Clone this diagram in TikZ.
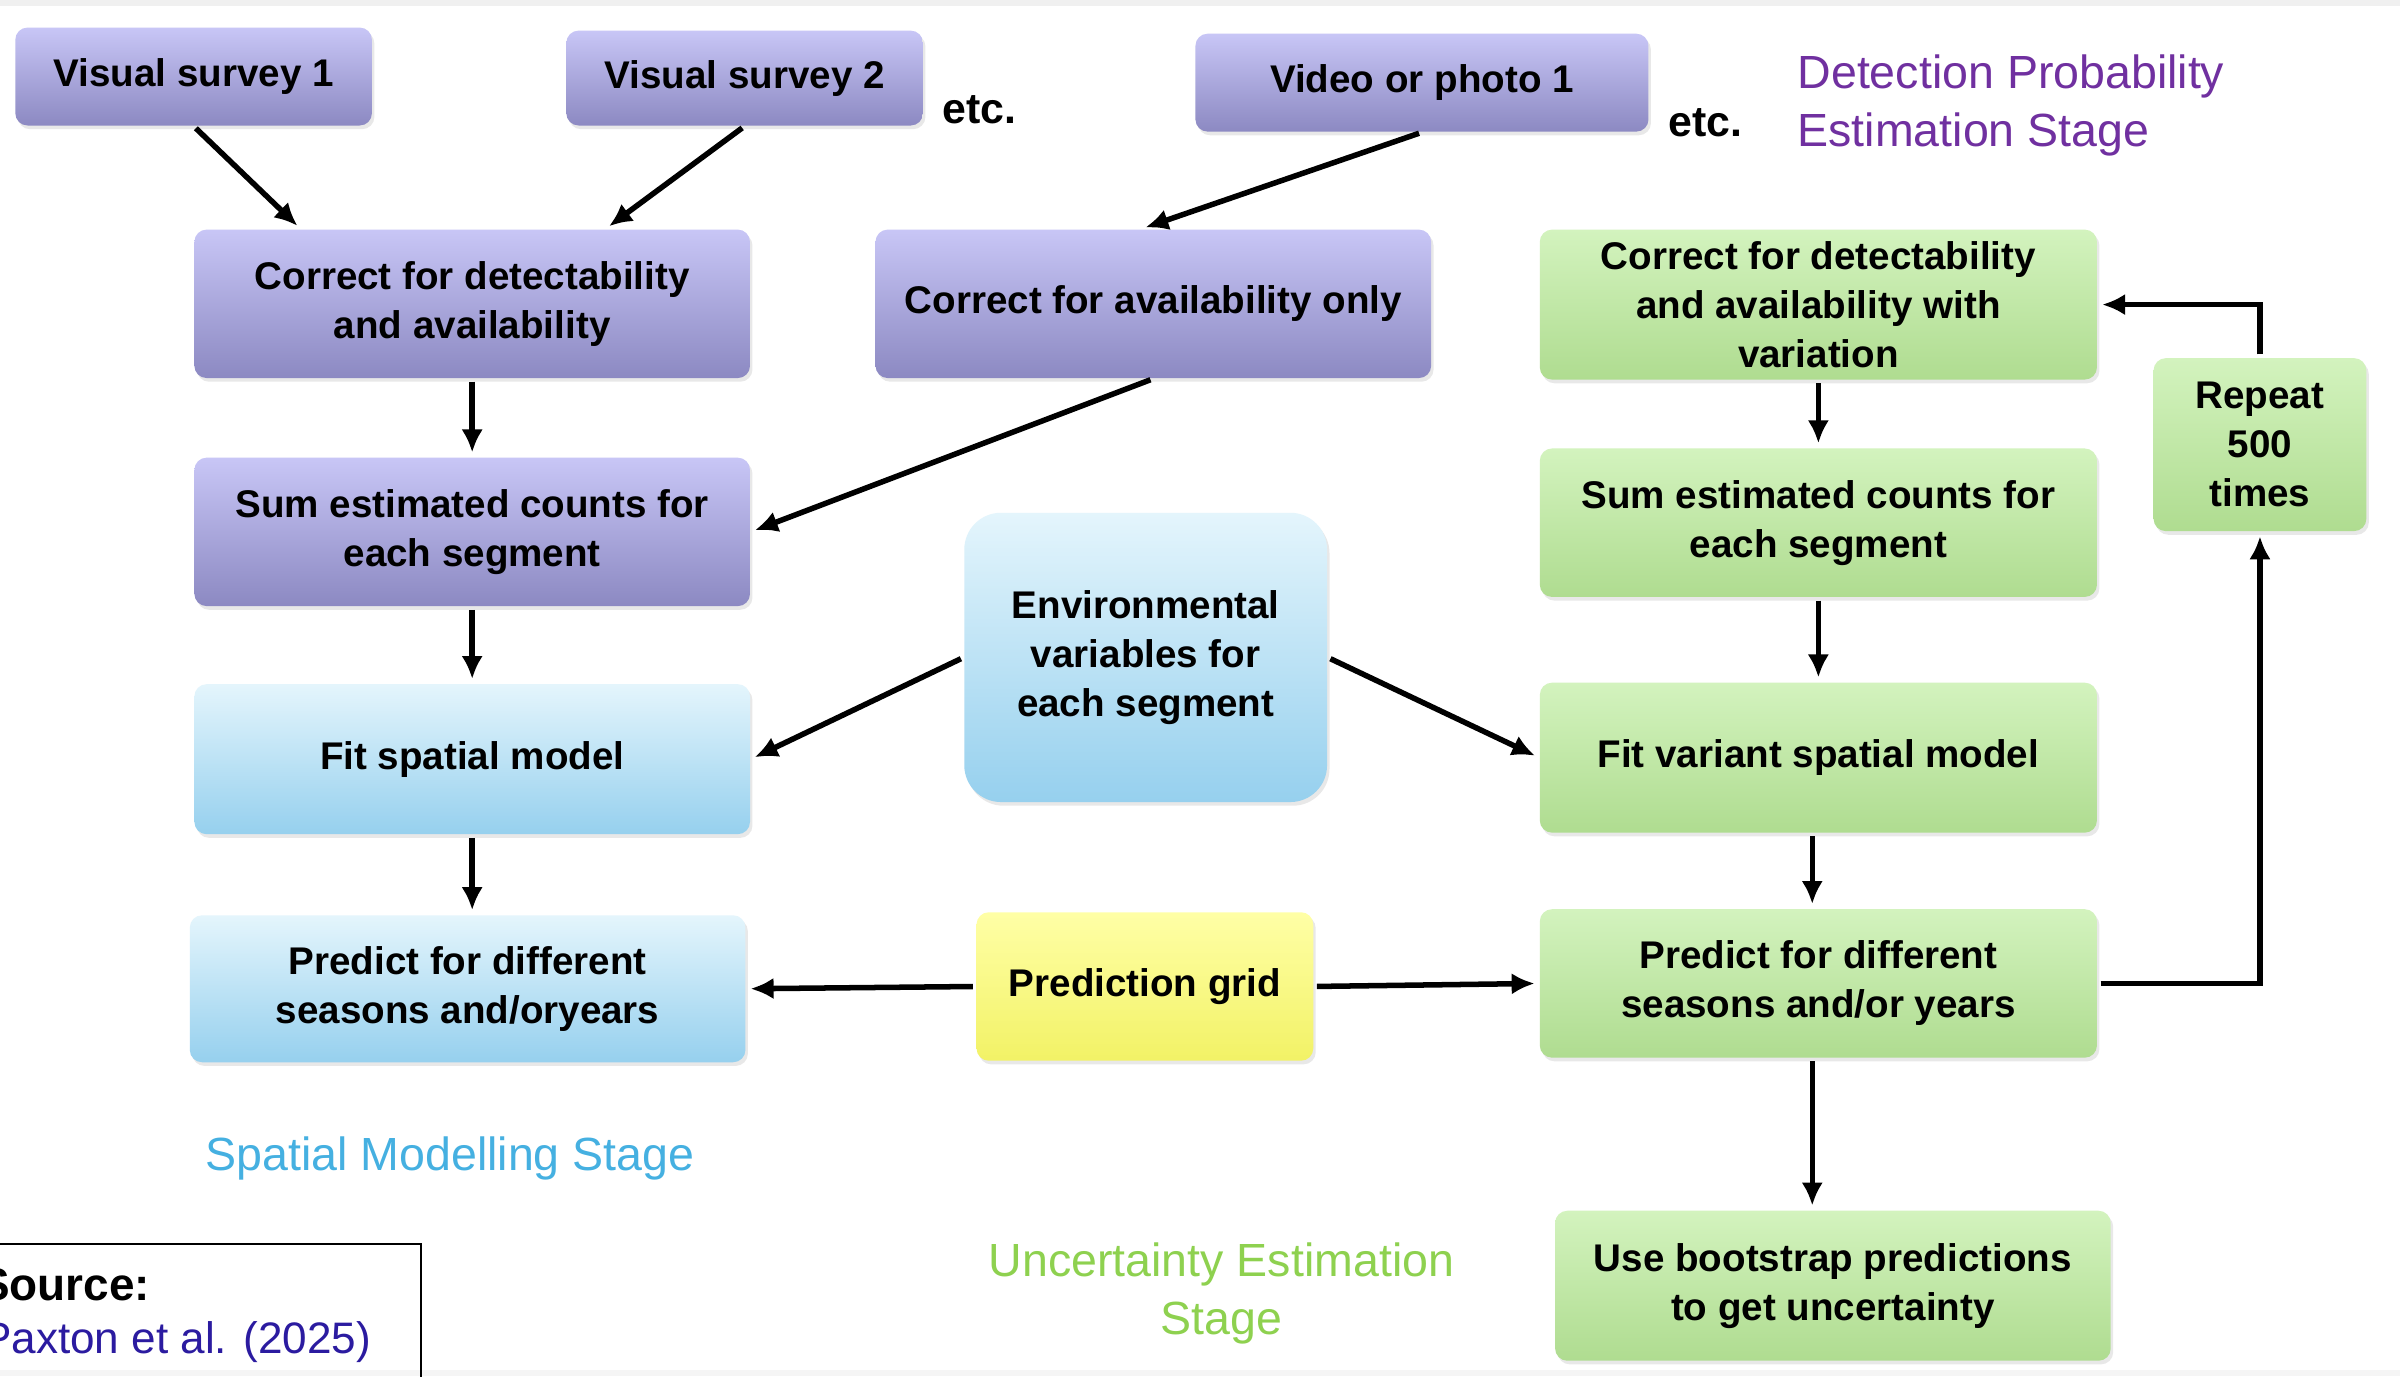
\documentclass[tikz,border=0pt]{standalone}
\usepackage{fontspec}
\setmainfont{Liberation Sans}
\usetikzlibrary{arrows.meta,calc,shadows}
\definecolor{pTop}{HTML}{C8C6F6}
\definecolor{pBot}{HTML}{8C89C2}
\definecolor{bTop}{HTML}{E4F5FC}
\definecolor{bBot}{HTML}{96D0EE}
\definecolor{gTop}{HTML}{D3F3BE}
\definecolor{gBot}{HTML}{AFDC90}
\definecolor{yTop}{HTML}{FFFFA6}
\definecolor{yBot}{HTML}{F2F266}
\definecolor{labPurple}{HTML}{7030A0}
\definecolor{labBlue}{HTML}{45B0E1}
\definecolor{labGreen}{HTML}{8ED14F}
\definecolor{srcBlue}{HTML}{2B1BA0}
\newcommand\boxfnt{\bfseries\fontsize{12.6}{16}\selectfont}
\newcommand\stagefnt{\fontsize{15.2}{19}\selectfont}
\begin{document}
\begin{tikzpicture}[x=0.5pt,y=-0.5pt,
  wh/.style 2 args={minimum width=#1*0.5pt, minimum height=#2*0.5pt},
  box/.style={rounded corners=4pt, align=center, inner sep=0pt, font=\boxfnt, text=black,
    drop shadow={opacity=0.18, shadow xshift=0.8pt, shadow yshift=-1.2pt}},
  pbox/.style={box, top color=pTop, bottom color=pBot},
  bbox/.style={box, top color=bTop, bottom color=bBot},
  gbox/.style={box, top color=gTop, bottom color=gBot},
  ybox/.style={box, top color=yTop, bottom color=yBot},
  arr/.style={-{Latex[length=7.5pt,width=7pt]}, line width=1.8pt, shorten >=1.5pt, shorten <=1pt},
  stage/.style={font=\stagefnt, inner sep=0pt}
]
\useasboundingbox (0,0) rectangle (1568,899);
\fill[white] (0,0) rectangle (1568,899);
\fill[black!6] (0,0) rectangle (1568,4);
\fill[black!4] (0,895) rectangle (1568,899);

% purple stage
\node[pbox, wh={233}{64}] (vs1) at (126.5,50) {Visual survey 1};
\node[pbox, wh={233}{62}] (vs2) at (486.5,51) {Visual survey 2};
\node[pbox, wh={296}{64}] (vid) at (929,54) {Video or photo 1};
\node[font=\bfseries\fontsize{14}{16}\selectfont, inner sep=0pt] (etcA) at (640,72) {etc.};
\node[font=\bfseries\fontsize{14}{16}\selectfont, inner sep=0pt] (etcB) at (1114,80) {etc.};
\node[stage, text=labPurple, anchor=west, align=left] (stDet) at (1174,69) {Detection Probability\\Estimation Stage};

\node[pbox, wh={363}{97}] (cda) at (308.5,198.5) {Correct for detectability\\and availability};
\node[pbox, wh={363}{97}] (cao) at (753.5,198.5) {Correct for availability only};
\node[pbox, wh={363}{97}] (sum) at (308.5,347.5) {Sum estimated counts for\\each segment};

% blue stage
\node[bbox, wh={237}{189}, rounded corners=12pt] (env) at (748.5,429.5) {Environmental\\variables for\\each segment};
\node[bbox, wh={363}{98}] (fit) at (308.5,496) {Fit spatial model};
\node[bbox, wh={363}{96}] (pred) at (305.5,646) {Predict for different\\seasons and/oryears};
\node[ybox, wh={220}{97}] (grid) at (748,644.5) {Prediction grid};
\node[stage, text=labBlue] (stSpat) at (294,757) {Spatial Modelling Stage};

% green stage
\node[gbox, wh={364}{98}] (cdav) at (1188,199) {Correct for detectability\\and availability with\\variation};
\node[gbox, wh={364}{97}] (sumg) at (1188,341.5) {Sum estimated counts for\\each segment};
\node[gbox, wh={139}{113}] (rep) at (1476.5,290.5) {Repeat\\500\\times};
\node[gbox, wh={364}{98}] (fitv) at (1188,495) {Fit variant spatial model};
\node[gbox, wh={364}{97}] (predg) at (1188,642.5) {Predict for different\\seasons and/or years};
\node[gbox, wh={363}{98}] (boot) at (1197.5,840) {Use bootstrap predictions\\to get uncertainty};
\node[stage, text=labGreen, align=center] (stUnc) at (798,845) {Uncertainty Estimation\\Stage};

% source box
\draw[line width=0.7pt] (-10,813) rectangle (275,915);
\node[font=\bfseries\fontsize{15}{18}\selectfont, anchor=west, inner sep=0pt] (srcT) at (-14,839) {Source:};
\node[font=\fontsize{14.4}{18}\selectfont, text=srcBlue, anchor=west, inner sep=0pt] (srcR) at (-12,877) {Paxton et al. (2025)};

% connectors
\draw[arr] (vs1.south) -- ($(cda.north)+(-112,0)$);
\draw[arr] (vs2.south) -- ($(cda.north)+(87,0)$);
\draw[arr] (vid.south) -- ($(cao.north)+(-8,0)$);
\draw[arr] (cda.south) -- (sum.north);
\draw[arr] (cao.south) -- (sum.east);
\draw[arr] (sum.south) -- (fit.north);
\draw[arr] (env.west) -- (fit.east);
\draw[arr] (env.east) -- (fitv.west);
\draw[arr] (fit.south) -- (fit.south |- pred.north);
\draw[arr] (grid.west) -- (pred.east);
\draw[arr] (grid.east) -- (predg.west);
\draw[arr] (cdav.south) -- (sumg.north);
\draw[arr] (sumg.south) -- (fitv.north);
\coordinate (fvs) at ($(fitv.south)+(-4,0)$);
\coordinate (pgs) at ($(predg.south)+(-4,0)$);
\draw[arr] (fvs) -- (fvs |- predg.north);
\draw[arr] (pgs) -- (pgs |- boot.north);
\draw[arr] (predg.east) -| (rep.south);
\draw[arr] (rep.north) |- (cdav.east);
\end{tikzpicture}
\end{document}
